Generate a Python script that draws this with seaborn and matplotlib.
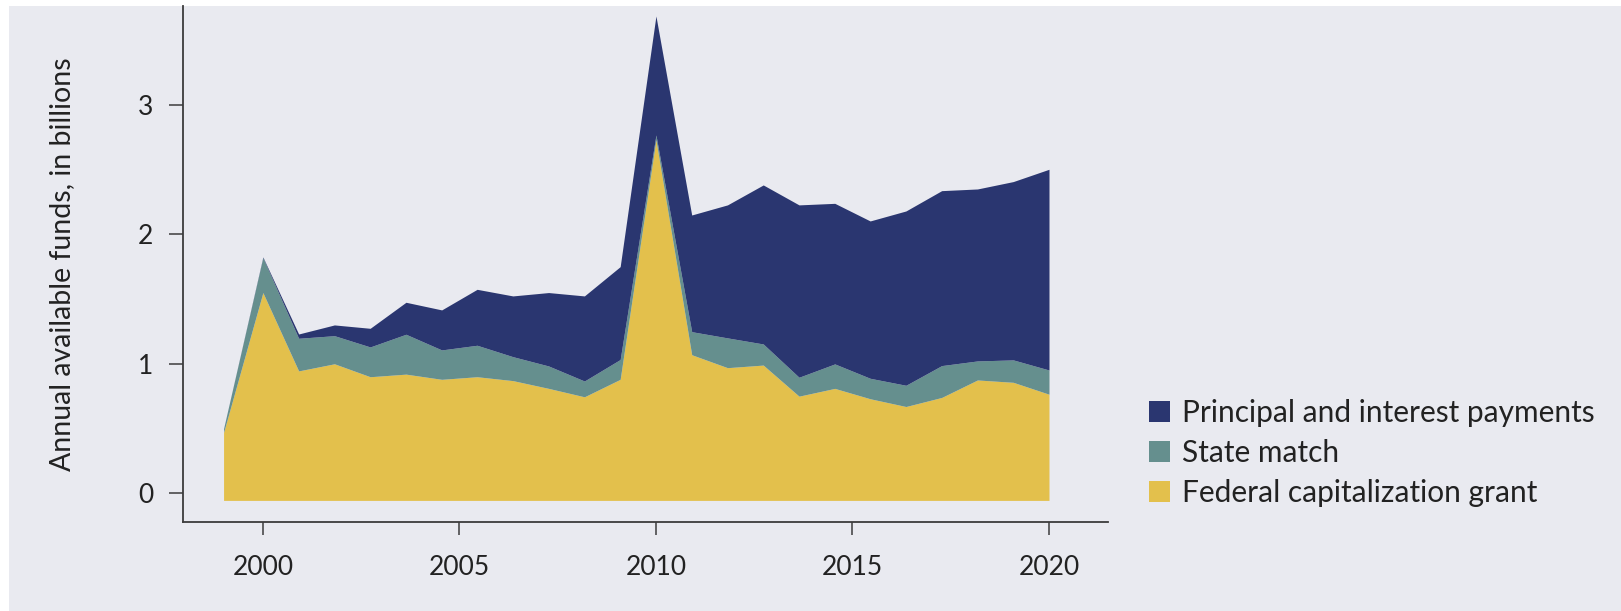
import numpy as np
import seaborn as sns
from matplotlib import pyplot as plt
from matplotlib.patches import Rectangle, Patch

sns.set_theme(style="white", context="notebook")
plt.rcParams['font.family'] = ['Lato', 'DejaVu Sans']

###############################################################################
# Data (billions of dollars)
years = [1999, 2000, 2000.91, 2001.82, 2002.73, 2003.64, 2004.55, 2005.45,
         2006.36, 2007.27, 2008.18, 2009.09, 2010, 2010.91, 2011.82, 2012.73,
         2013.64, 2014.55, 2015.45, 2016.36, 2017.27, 2018.18, 2019.09, 2020]
federal = [0.47, 1.55, 0.945, 1.00, 0.90, 0.92, 0.88, 0.90, 0.87, 0.81, 0.745,
           0.88, 2.73, 1.07, 0.97, 0.99, 0.75, 0.81, 0.73, 0.67, 0.74, 0.875,
           0.857, 0.765]
state = [0.03, 0.27, 0.252, 0.217, 0.23, 0.308, 0.227, 0.243, 0.185, 0.173,
         0.122, 0.153, 0.037, 0.178, 0.23, 0.163, 0.146, 0.189, 0.158, 0.164,
         0.246, 0.147, 0.173, 0.187]
payments = [0.0, 0.005, 0.033, 0.083, 0.144, 0.247, 0.309, 0.432, 0.469, 0.567,
            0.657, 0.717, 0.919, 0.901, 1.027, 1.228, 1.331, 1.24, 1.215, 1.346,
            1.351, 1.328, 1.377, 1.55]
labels = ["Federal capitalization grant", "State match",
          "Principal and interest payments"]
colors = ["#e3c04c", "#658f8e", "#2a3670"]
BASE = -0.055
BG = "#e9eaf0"

###############################################################################
x = np.array(years)
layer1 = np.array(federal)
layer2 = layer1 + np.array(state)
layer3 = layer2 + np.array(payments)

fig = plt.figure(figsize=(16.21, 6.11), dpi=100)
fig.patch.set_facecolor("white")
fig.add_artist(Rectangle((9 / 1621, 0), 1, 1 - 6 / 611, transform=fig.transFigure,
                         facecolor=BG, edgecolor="none", zorder=-10))

ax = fig.add_axes([0.1127, 0.1452, 0.5708, 0.845])
ax.set_facecolor(BG)

ax.fill_between(x, BASE, layer1, color=colors[0], lw=0)
ax.fill_between(x, layer1, layer2, color=colors[1], lw=0)
ax.fill_between(x, layer2, layer3, color=colors[2], lw=0)

ax.set_xlim(1997.96, 2021.5)
ax.set_ylim(-0.224, 3.763)
ax.set_xticks([2000, 2005, 2010, 2015, 2020])
ax.set_yticks([0, 1, 2, 3])

for side in ["top", "right"]:
    ax.spines[side].set_visible(False)
for side in ["left", "bottom"]:
    ax.spines[side].set_color("#3c3c3c")
    ax.spines[side].set_linewidth(1.3)

ax.tick_params(axis="y", length=10, width=1.1, color="#3c3c3c", pad=11,
               labelsize=19, labelcolor="#222222", left=True)
ax.tick_params(axis="x", length=9.5, width=1.1, color="#3c3c3c", pad=14,
               labelsize=19, labelcolor="#222222", bottom=True)

ax.set_ylabel("Annual available funds, in billions", fontsize=20.5,
              color="#222222")
ax.yaxis.set_label_coords(-0.1158, 0.5)

handles = [Patch(facecolor=colors[i], edgecolor="none") for i in (2, 1, 0)]
fig.legend(handles, [labels[i] for i in (2, 1, 0)], loc="center left",
           bbox_to_anchor=(0.6999, 0.2586), frameon=False, fontsize=21.5,
           borderpad=0, handlelength=0.7, handleheight=0.7,
           handletextpad=0.38, labelspacing=0.41, labelcolor="#222222")

fig.savefig("out.png", dpi=100, facecolor=fig.get_facecolor())
